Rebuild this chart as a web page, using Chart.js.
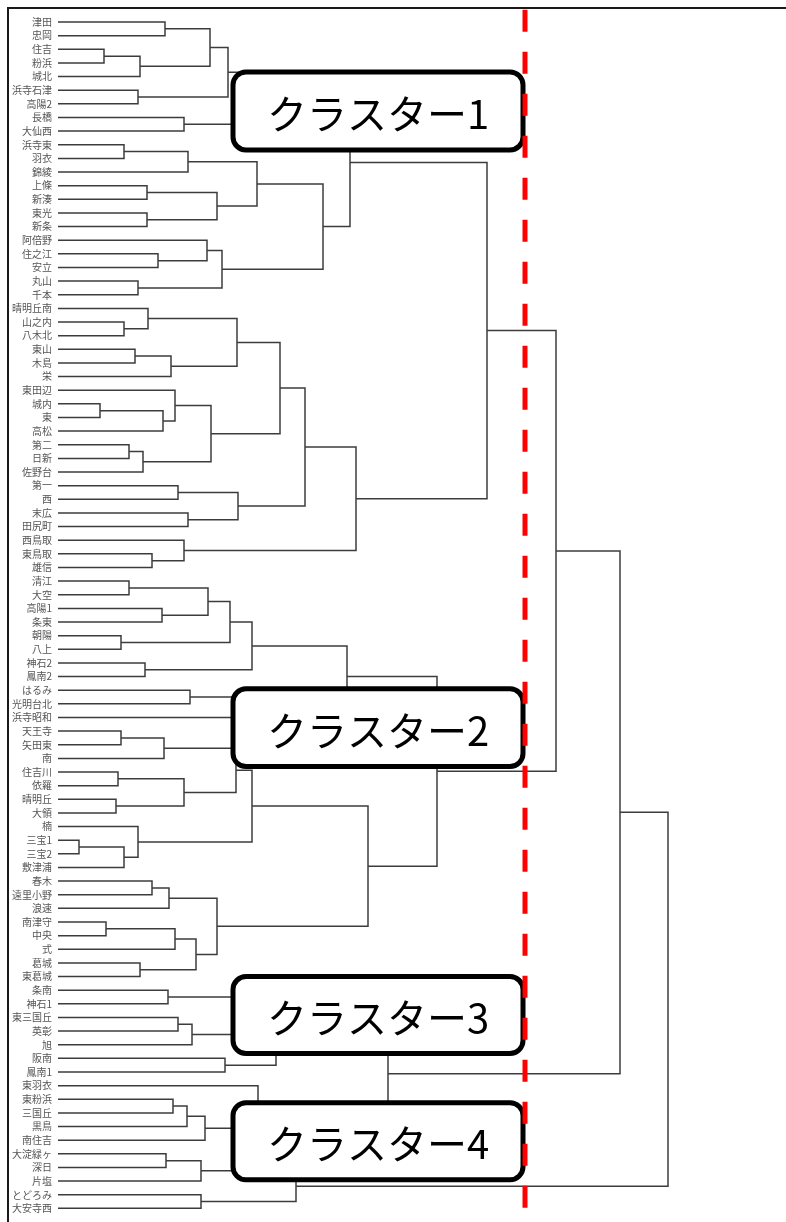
<!DOCTYPE html>
<html lang="ja">
<head>
<meta charset="utf-8">
<title>デンドログラム</title>
<script src="https://cdn.jsdelivr.net/npm/chart.js@4.4.1/dist/chart.umd.min.js"></script>
<style>
  html, body { margin: 0; padding: 0; background: #fff; }
  #wrap { width: 786px; height: 1222px; }
</style>
</head>
<body>
<div id="wrap"><canvas id="dendro" width="786" height="1222"></canvas></div>
<script>
// ---------------------------------------------------------
// データ
// ---------------------------------------------------------
// 葉（上から順）
const leafNames = [
    '津田', '忠岡', '住吉', '粉浜', '城北', '浜寺石津', '高陽2', '長橋', '大仙西', '浜寺東',
    '羽衣', '錦綾', '上條', '新湊', '東光', '新条', '阿倍野', '住之江', '安立', '丸山',
    '千本', '晴明丘南', '山之内', '八木北', '東山', '木島', '栄', '東田辺', '城内', '東',
    '高松', '第二', '日新', '佐野台', '第一', '西', '末広', '田尻町', '西鳥取', '東鳥取',
    '雄信', '清江', '大空', '高陽1', '条東', '朝陽', '八上', '神石2', '鳳南2', 'はるみ',
    '光明台北', '浜寺昭和', '天王寺', '矢田東', '南', '住吉川', '依羅', '晴明丘', '大領', '楠',
    '三宝1', '三宝2', '敷津浦', '春木', '遠里小野', '浪速', '南津守', '中央', '式', '葛城',
    '東葛城', '条南', '神石1', '東三国丘', '英彰', '旭', '阪南', '鳳南1', '東羽衣', '東粉浜',
    '三国丘', '黒鳥', '南住吉', '大淀緑ヶ', '深日', '片塩', 'とどろみ', '大安寺西'
];

// 結合 [左, 右, 距離]  文字列 = 葉、数値 = それより前の結合の番号
const merges = [
    ['津田', '忠岡', 10.7],      // 0
    ['住吉', '粉浜', 4.6],       // 1
    [1, '城北', 8.2],            // 2
    [0, 2, 15.2],                // 3
    ['浜寺石津', '高陽2', 8.0],  // 4
    [3, 4, 17.0],                // 5
    ['長橋', '大仙西', 12.6],    // 6
    [5, 6, 20.7],                // 7
    ['浜寺東', '羽衣', 6.6],     // 8
    [8, '錦綾', 13.0],           // 9
    ['上條', '新湊', 8.9],       // 10
    ['東光', '新条', 8.9],       // 11
    [10, 11, 15.9],              // 12
    [9, 12, 19.9],               // 13
    ['住之江', '安立', 10.0],    // 14
    ['阿倍野', 14, 14.9],        // 15
    ['丸山', '千本', 8.0],       // 16
    [15, 16, 16.4],              // 17
    [13, 17, 26.5],              // 18
    [7, 18, 29.2],               // 19
    ['山之内', '八木北', 6.6],   // 20
    ['晴明丘南', 20, 9.0],       // 21
    ['東山', '木島', 7.7],       // 22
    [22, '栄', 11.3],            // 23
    [21, 23, 17.9],              // 24
    ['城内', '東', 4.2],         // 25
    [25, '高松', 10.5],          // 26
    ['東田辺', 26, 11.7],        // 27
    ['第二', '日新', 7.1],       // 28
    [28, '佐野台', 8.5],         // 29
    [27, 29, 15.3],              // 30
    [24, 30, 22.2],              // 31
    ['第一', '西', 12.0],        // 32
    ['末広', '田尻町', 13.0],    // 33
    [32, 33, 18.0],              // 34
    [31, 34, 24.7],              // 35
    ['東鳥取', '雄信', 9.4],     // 36
    ['西鳥取', 36, 12.6],        // 37
    [35, 37, 29.8],              // 38
    [19, 38, 42.9],              // 39
    ['清江', '大空', 7.1],       // 40
    ['高陽1', '条東', 10.4],     // 41
    [40, 41, 15.0],              // 42
    ['朝陽', '八上', 6.3],       // 43
    [42, 43, 17.2],              // 44
    ['神石2', '鳳南2', 8.7],     // 45
    [44, 45, 19.4],              // 46
    ['はるみ', '光明台北', 13.2], // 47
    [47, '浜寺昭和', 22.2],      // 48
    [46, 48, 28.9],              // 49
    ['天王寺', '矢田東', 6.3],   // 50
    [50, '南', 10.6],            // 51
    ['住吉川', '依羅', 6.0],     // 52
    ['晴明丘', '大領', 5.8],     // 53
    [52, 53, 12.6],              // 54
    [51, 54, 17.8],              // 55
    ['三宝1', '三宝2', 2.1],     // 56
    [56, '敷津浦', 6.6],         // 57
    ['楠', 57, 8.0],             // 58
    [55, 58, 19.4],              // 59
    ['春木', '遠里小野', 9.4],   // 60
    [60, '浪速', 11.1],          // 61
    ['南津守', '中央', 4.8],     // 62
    [62, '式', 11.7],            // 63
    ['葛城', '東葛城', 8.2],     // 64
    [63, 64, 13.8],              // 65
    [61, 65, 15.9],              // 66
    [59, 66, 31.0],              // 67
    [49, 67, 37.9],              // 68
    [39, 68, 49.8],              // 69
    ['条南', '神石1', 11.0],     // 70
    ['東三国丘', '英彰', 12.0],  // 71
    [71, '旭', 13.4],            // 72
    [70, 72, 19.7],              // 73
    ['阪南', '鳳南1', 16.7],     // 74
    [73, 74, 21.8],              // 75
    ['東粉浜', '三国丘', 11.5],  // 76
    [76, '黒鳥', 12.9],          // 77
    [77, '南住吉', 14.7],        // 78
    ['東羽衣', 78, 20.0],        // 79
    [75, 79, 33.0],              // 80
    [69, 80, 56.2],              // 81
    ['大淀緑ヶ', '深日', 10.8],  // 82
    [82, '片塩', 14.3],          // 83
    ['とどろみ', '大安寺西', 14.3], // 84
    [83, 84, 23.8],              // 85
    [81, 85, 61.0]               // 86
];

// 切断距離（赤の破線）
const cutHeight = 46.7;

const clusterNames = ['クラスター1', 'クラスター2', 'クラスター3', 'クラスター4'];

// ---------------------------------------------------------
// 樹形図の線を組み立てる
// ---------------------------------------------------------
const FONT = '"Noto Sans CJK JP", "Noto Sans", sans-serif';
const LINE_COLOR = '#3c3c3c';

const nodes = [];
const where = (c) => (typeof c === 'string')
    ? { y: leafNames.indexOf(c), h: 0 }
    : nodes[c];

const datasets = merges.map(([a, b, h]) => {
    const l = where(a);
    const r = where(b);
    nodes.push({ y: (l.y + r.y) / 2, h: h });
    return {
        data: [
            { x: l.h, y: l.y },
            { x: h, y: l.y },
            { x: h, y: r.y },
            { x: r.h, y: r.y }
        ],
        borderColor: LINE_COLOR,
        borderWidth: 1.5,
        pointRadius: 0,
        tension: 0,
        fill: false,
        order: 1
    };
});

// 赤い破線
datasets.push({
    label: 'cut',
    data: [{ x: cutHeight, y: -0.9 }, { x: cutHeight, y: 87.4 }],
    borderColor: '#ff0000',
    borderWidth: 5,
    borderDash: [22, 20],
    pointRadius: 0,
    fill: false,
    order: -1
});

// クラスター名の枠（縦位置は葉の番号で指定）
const boxPlugin = {
    id: 'clusterBoxes',
    beforeDraw(chart) {
        const ctx = chart.ctx;
        ctx.save();
        ctx.fillStyle = '#fff';
        ctx.fillRect(0, 0, chart.width, chart.height);
        // 外枠（上と左）
        ctx.strokeStyle = '#1a1a1a';
        ctx.lineWidth = 2;
        ctx.beginPath();
        ctx.moveTo(8, chart.height);
        ctx.lineTo(8, 8);
        ctx.lineTo(chart.width, 8);
        ctx.stroke();
        ctx.restore();
    },
    beforeDatasetDraw(chart, args, opts) {
        if (chart.data.datasets[args.index].label !== 'cut') return;
        const xs = chart.scales.x;
        const ys = chart.scales.y;
        const ctx = chart.ctx;
        ctx.save();
        opts.boxes.forEach((b, i) => {
            const x0 = xs.getPixelForValue(opts.from);
            const x1 = xs.getPixelForValue(opts.to);
            const y0 = ys.getPixelForValue(b[0]);
            const y1 = ys.getPixelForValue(b[1]);
            ctx.beginPath();
            ctx.roundRect(x0, y0, x1 - x0, y1 - y0, 13);
            ctx.fillStyle = '#fff';
            ctx.fill();
            ctx.lineWidth = 5;
            ctx.strokeStyle = '#000';
            ctx.stroke();
            ctx.fillStyle = '#000';
            ctx.font = '400 40px ' + FONT;
            ctx.textAlign = 'center';
            ctx.textBaseline = 'middle';
            ctx.fillText(clusterNames[i], (x0 + x1) / 2, (y0 + y1) / 2 + 3);
        });
        ctx.restore();
    }
};

new Chart(document.getElementById('dendro'), {
    type: 'line',
    data: { datasets: datasets },
    options: {
        responsive: false,
        animation: false,
        devicePixelRatio: 1,
        layout: { padding: { top: 8.4, right: 0, bottom: 0, left: 0 } },
        plugins: {
            legend: { display: false },
            tooltip: { enabled: false },
            clusterBoxes: {
                from: 17.5,
                to: 46.5,
                boxes: [[3.66, 9.38], [48.9, 54.6], [70.0, 75.65], [79.25, 84.9]]
            }
        },
        scales: {
            x: {
                type: 'linear',
                display: false,
                min: 0,
                max: 72.8
            },
            y: {
                type: 'linear',
                reverse: true,
                min: -1,
                max: 88,
                grid: { display: false, drawTicks: false },
                border: { display: false },
                ticks: {
                    stepSize: 1,
                    autoSkip: false,
                    padding: 6,
                    color: '#555',
                    font: { family: FONT, size: 10 },
                    callback: (v) => leafNames[v] ?? ''
                },
                afterFit: (s) => {
                    s.width = 58;
                    s.paddingTop = 0;
                    s.paddingBottom = 0;
                }
            }
        }
    },
    plugins: [boxPlugin]
});
</script>
</body>
</html>
